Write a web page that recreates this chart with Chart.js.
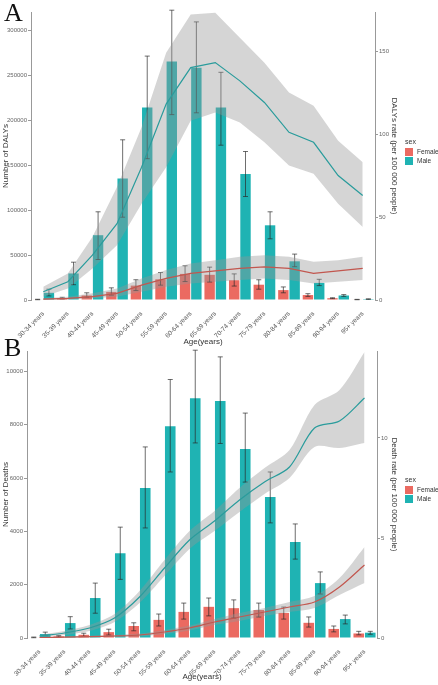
<!DOCTYPE html>
<html>
<head>
<meta charset="utf-8">
<script src="https://cdn.jsdelivr.net/npm/chart.js@4.4.1/dist/chart.umd.min.js"></script>
<style>
  body { margin: 0; background: #fff; width: 438px; height: 685px; overflow: hidden; position: relative; font-family: 'Liberation Sans', Arial, sans-serif; }
  canvas { position: absolute; left: 0; }
  #chA { top: 0; }
  #chB { top: 335px; }
  .letter { position: absolute; left: 4px; font-family: 'Liberation Serif', 'DejaVu Serif', serif; font-size: 26px; color: #111; line-height: 1; }
  .legend { position: absolute; left: 405px; font-size: 6.5px; color: #333; }
  .legend .ttl { margin-bottom: 2px; font-size: 7px; }
  .legend .row { display: flex; align-items: center; height: 9px; }
  .legend .sw { width: 8px; height: 8px; margin-right: 4px; }
</style>
</head>
<body>
<canvas id="chA" width="438" height="350"></canvas>
<canvas id="chB" width="438" height="350"></canvas>
<div class="letter" style="top:0px">A</div>
<div class="letter" style="top:335px">B</div>
<div class="legend" style="top:138px">
  <div class="ttl">sex</div>
  <div class="row"><div class="sw" style="background:#eb6a61"></div>Female</div>
  <div class="row"><div class="sw" style="background:#1fb3b3"></div>Male</div>
</div>
<div class="legend" style="top:476px">
  <div class="ttl">sex</div>
  <div class="row"><div class="sw" style="background:#eb6a61"></div>Female</div>
  <div class="row"><div class="sw" style="background:#1fb3b3"></div>Male</div>
</div>
<script>
const AGE_GROUPS = ["30-34 years", "35-39 years", "40-44 years", "45-49 years", "50-54 years", "55-59 years",
  "60-64 years", "65-69 years", "70-74 years", "75-79 years", "80-84 years", "85-89 years", "90-94 years", "95+ years"];

// Panel A: DALYs
const DALY_FEMALE    = [500, 2000, 5000, 9000, 16000, 23000, 29000, 28000, 22000, 17000, 11000, 5500, 2000, 500];
const DALY_FEMALE_LO = [300, 1200, 3000, 5500, 10500, 16500, 20500, 20000, 15500, 12000, 8000, 4000, 1500, 300];
const DALY_FEMALE_HI = [800, 3000, 8000, 13500, 22500, 30500, 38000, 36500, 29000, 22500, 14500, 7000, 2500, 700];
const DALY_MALE      = [8000, 29500, 72000, 135000, 214000, 265000, 258000, 214000, 140000, 83000, 43000, 19000, 5000, 1000];
const DALY_MALE_LO   = [4500, 17000, 45000, 92000, 157000, 206000, 208000, 172000, 115000, 68000, 37000, 16000, 4000, 700];
const DALY_MALE_HI   = [12000, 42000, 98000, 178000, 271000, 322000, 309000, 253000, 165000, 98000, 51000, 23000, 6000, 1300];
const DALY_RATE_MALE    = [5, 11, 27, 46, 80, 118, 140, 143, 132, 119, 101, 95, 75, 63];
const DALY_RATE_MALE_LO = [2, 7, 19, 33, 58, 80, 108, 113, 107, 95, 81, 76, 58, 44];
const DALY_RATE_MALE_HI = [8, 16, 38, 68, 104, 149, 172, 173, 158, 143, 125, 117, 96, 83];
const DALY_RATE_FEMALE    = [0.5, 1, 2, 4, 9, 13, 16, 17.5, 19, 20, 19, 16, 17.5, 19];
const DALY_RATE_FEMALE_LO = [0, 0.3, 1, 2, 5, 8, 10, 11, 12, 13, 12, 10, 11, 12];
const DALY_RATE_FEMALE_HI = [1, 2, 4, 7, 13, 18, 22, 24, 26, 27, 26, 23, 24, 26];
const DALY_TICKS = [0, 50000, 100000, 150000, 200000, 250000, 300000];
const DALY_RATE_TICKS = [0, 50, 100, 150];

// Panel B: Deaths
const DEATH_FEMALE    = [20, 60, 120, 220, 450, 680, 980, 1170, 1120, 1050, 940, 570, 340, 170];
const DEATH_FEMALE_LO = [10, 40, 60, 110, 270, 450, 710, 830, 750, 790, 710, 410, 230, 120];
const DEATH_FEMALE_HI = [35, 90, 180, 330, 570, 900, 1310, 1500, 1430, 1310, 1160, 790, 450, 250];
const DEATH_MALE      = [150, 560, 1500, 3180, 5630, 7950, 9000, 8890, 7090, 5290, 3600, 2060, 710, 200];
const DEATH_MALE_LO   = [90, 340, 930, 2200, 4130, 6230, 7320, 7300, 5850, 4320, 2960, 1650, 530, 140];
const DEATH_MALE_HI   = [220, 800, 2060, 4160, 7170, 9700, 10800, 10550, 8440, 6230, 4280, 2480, 860, 250];
const DEATH_RATE_MALE    = [0.1, 0.25, 0.5, 1.0, 2.05, 3.5, 4.9, 5.85, 6.9, 7.8, 8.55, 10.5, 10.85, 12.0];
const DEATH_RATE_MALE_LO = [0.05, 0.15, 0.35, 0.8, 1.75, 3.1, 4.45, 5.35, 6.3, 7.2, 8.0, 9.55, 9.5, 9.75];
const DEATH_RATE_MALE_HI = [0.15, 0.35, 0.65, 1.2, 2.35, 3.9, 5.35, 6.35, 7.5, 8.5, 9.4, 11.65, 12.4, 14.3];
const DEATH_RATE_FEMALE    = [0.02, 0.04, 0.07, 0.1, 0.15, 0.3, 0.5, 0.8, 1.05, 1.3, 1.55, 1.8, 2.55, 3.65];
const DEATH_RATE_FEMALE_LO = [0, 0.01, 0.03, 0.05, 0.08, 0.2, 0.38, 0.65, 0.85, 1.1, 1.3, 1.5, 2.15, 2.75];
const DEATH_RATE_FEMALE_HI = [0.04, 0.07, 0.11, 0.15, 0.22, 0.4, 0.62, 0.95, 1.25, 1.5, 1.8, 2.1, 3.0, 4.55];
const DEATH_TICKS = [0, 2000, 4000, 6000, 8000, 10000];
const DEATH_RATE_TICKS = [0, 5, 10];

const FEMALE_COL = "#eb6a61";
const MALE_COL = "#1fb3b3";
const BAND_COL = "rgba(150,150,150,0.4)";
const TICK_FONT = { family: "'Liberation Sans', Arial, sans-serif", size: 6 };
const XTICK_FONT = { family: "'Liberation Sans', Arial, sans-serif", size: 6.5 };
const TITLE_FONT = { family: "'Liberation Sans', Arial, sans-serif", size: 8 };

// draws the whiskers right after each bar dataset
const errorBars = {
  id: "errorBars",
  afterDatasetDraw(chart, args) {
    const ds = chart.data.datasets[args.index];
    if (!ds.errLo) return;
    const y = chart.scales.y;
    const ctx = chart.ctx;
    ctx.save();
    ctx.strokeStyle = "rgba(40,40,40,0.85)";
    ctx.lineWidth = 0.8;
    args.meta.data.forEach((bar, j) => {
      const yl = y.getPixelForValue(ds.errLo[j]);
      const yh = y.getPixelForValue(ds.errHi[j]);
      ctx.beginPath();
      ctx.moveTo(bar.x, yl); ctx.lineTo(bar.x, yh);
      ctx.moveTo(bar.x - 2.5, yl); ctx.lineTo(bar.x + 2.5, yl);
      ctx.moveTo(bar.x - 2.5, yh); ctx.lineTo(bar.x + 2.5, yh);
      ctx.stroke();
    });
    ctx.restore();
  }
};

function makePanel(id, p) {
  const band = (lo, hi) => ([
    { type: "line", data: lo, yAxisID: "y1", borderWidth: 0, pointRadius: 0, fill: false, order: 5, tension: p.tension },
    { type: "line", data: hi, yAxisID: "y1", borderWidth: 0, pointRadius: 0, fill: "-1", backgroundColor: BAND_COL, order: 5, tension: p.tension }
  ]);
  new Chart(document.getElementById(id), {
    type: "bar",
    data: {
      labels: AGE_GROUPS,
      datasets: [
        { label: "Female", data: p.female, errLo: p.femaleLo, errHi: p.femaleHi, backgroundColor: FEMALE_COL, yAxisID: "y", order: 10,
          categoryPercentage: 0.92, barPercentage: 0.92 },
        { label: "Male", data: p.male, errLo: p.maleLo, errHi: p.maleHi, backgroundColor: MALE_COL, yAxisID: "y", order: 10,
          categoryPercentage: 0.92, barPercentage: 0.92 },
        ...band(p.rateMaleLo, p.rateMaleHi),
        ...band(p.rateFemaleLo, p.rateFemaleHi),
        { type: "line", data: p.rateMale, yAxisID: "y1", borderColor: "#2a9c9c", borderWidth: 1.2, pointRadius: 0, fill: false, order: 1, tension: p.tension },
        { type: "line", data: p.rateFemale, yAxisID: "y1", borderColor: "#c2574f", borderWidth: 1.2, pointRadius: 0, fill: false, order: 1, tension: p.tension }
      ]
    },
    options: {
      responsive: false,
      animation: false,
      layout: { padding: { top: p.top, right: 38, left: 0, bottom: 0 } },
      plugins: { legend: { display: false }, tooltip: { enabled: false } },
      scales: {
        x: {
          grid: { display: false },
          border: { display: false },
          ticks: { color: "#555", font: XTICK_FONT, minRotation: 45, maxRotation: 45, autoSkip: false, padding: 2 },
          title: { display: true, text: "Age(years)", color: "#333", font: TITLE_FONT, padding: { top: 0, bottom: 3 } },
          afterFit: (s) => { s.height = p.xHeight; }
        },
        y: {
          position: "left",
          min: 0, max: p.yMax,
          afterBuildTicks: (s) => { s.ticks = p.yTicks.map(v => ({ value: v })); },
          grid: { drawOnChartArea: false, tickLength: 3, color: "#999" },
          border: { color: "#999" },
          ticks: { color: "#666", font: TICK_FONT, padding: 1, callback: (v) => String(v) },
          title: { display: true, text: p.yTitle, color: "#333", font: TITLE_FONT, padding: 1 },
          afterFit: (s) => { s.width = p.left; }
        },
        y1: {
          position: "right",
          min: 0, max: p.y1Max,
          afterBuildTicks: (s) => { s.ticks = p.y1Ticks.map(v => ({ value: v })); },
          grid: { drawOnChartArea: false, tickLength: 3, color: "#999" },
          border: { color: "#999" },
          ticks: { color: "#666", font: TICK_FONT, padding: 1, callback: (v) => String(v) },
          title: { display: true, text: p.y1Title, color: "#333", font: TITLE_FONT, padding: 1 },
          afterFit: (s) => { s.width = 400 - p.right; }
        }
      }
    },
    plugins: [errorBars]
  });
}

makePanel("chA", {
  female: DALY_FEMALE, femaleLo: DALY_FEMALE_LO, femaleHi: DALY_FEMALE_HI,
  male: DALY_MALE, maleLo: DALY_MALE_LO, maleHi: DALY_MALE_HI,
  rateMale: DALY_RATE_MALE, rateMaleLo: DALY_RATE_MALE_LO, rateMaleHi: DALY_RATE_MALE_HI,
  rateFemale: DALY_RATE_FEMALE, rateFemaleLo: DALY_RATE_FEMALE_LO, rateFemaleHi: DALY_RATE_FEMALE_HI,
  yTicks: DALY_TICKS, y1Ticks: DALY_RATE_TICKS, yMax: 320000, y1Max: 173.5,
  yTitle: "Number of DALYs", y1Title: "DALYs rate (per 100 000 people)",
  top: 12, xHeight: 50, left: 31, right: 375, tension: 0
});

makePanel("chB", {
  female: DEATH_FEMALE, femaleLo: DEATH_FEMALE_LO, femaleHi: DEATH_FEMALE_HI,
  male: DEATH_MALE, maleLo: DEATH_MALE_LO, maleHi: DEATH_MALE_HI,
  rateMale: DEATH_RATE_MALE, rateMaleLo: DEATH_RATE_MALE_LO, rateMaleHi: DEATH_RATE_MALE_HI,
  rateFemale: DEATH_RATE_FEMALE, rateFemaleLo: DEATH_RATE_FEMALE_LO, rateFemaleHi: DEATH_RATE_FEMALE_HI,
  yTicks: DEATH_TICKS, y1Ticks: DEATH_RATE_TICKS, yMax: 10770, y1Max: 14.35,
  yTitle: "Number of Deaths", y1Title: "Death rate (per 100 000 people)",
  top: 16, xHeight: 47, left: 27, right: 377, tension: 0.3
});
</script>
</body>
</html>
